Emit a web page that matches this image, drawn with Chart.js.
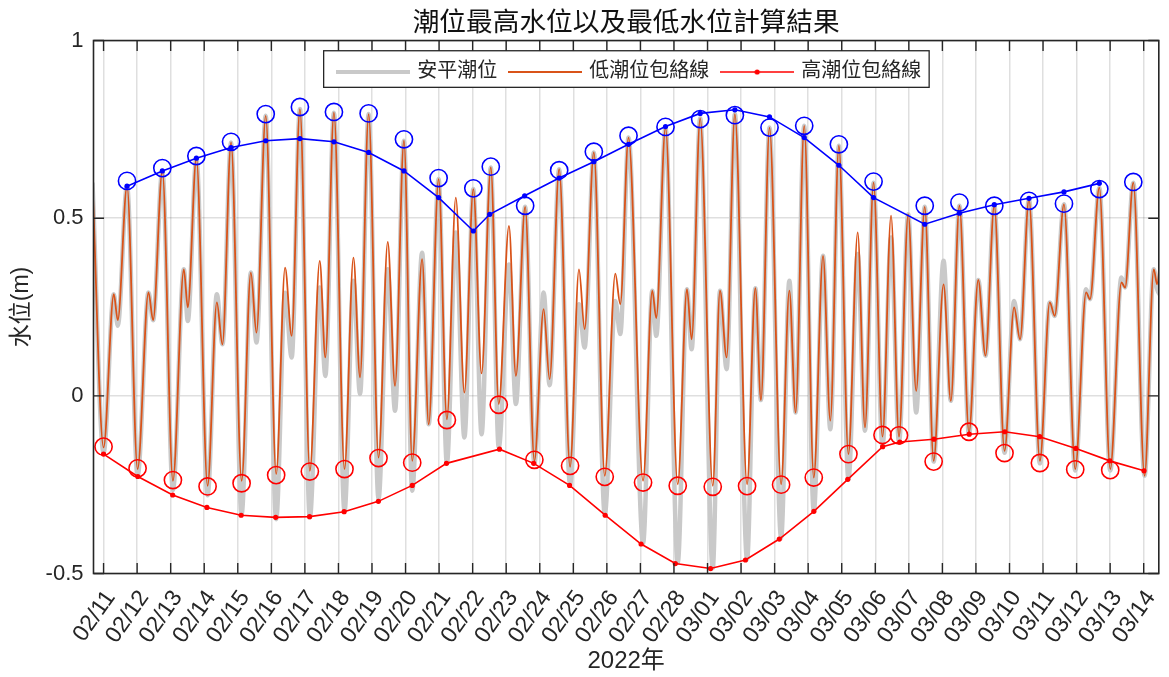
<!DOCTYPE html>
<html><head><meta charset="utf-8">
<script src="https://cdn.jsdelivr.net/npm/chart.js@4.4.1/dist/chart.umd.min.js"></script>
<style>html,body{margin:0;padding:0;background:#fff;}canvas{display:block;}</style>
</head><body>
<canvas id="c" width="1169" height="677" style="width:1169px;height:677px"></canvas>
<script>
// ---- data (time = days since 2022-02-11 00:00) ----
const dateLabels = ['02/11','02/12','02/13','02/14','02/15','02/16','02/17','02/18','02/19','02/20','02/21','02/22','02/23','02/24','02/25','02/26','02/27','02/28','03/01','03/02','03/03','03/04','03/05','03/06','03/07','03/08','03/09','03/10','03/11','03/12','03/13','03/14'];
const yTickValues = [-0.5, 0, 0.5, 1];
const yTickLabels = ['-0.5', '0', '0.5', '1'];

const tideTime = [
  -0.33, 0.00, 0.305, 0.423, 0.699, 1.014, 1.339, 1.476, 1.752, 2.067, 2.392, 2.51, 2.766, 3.10, 3.376, 3.543, 3.80, 4.114, 4.39, 4.557, 4.833,
  5.144, 5.41, 5.606, 5.852, 6.148, 6.443, 6.61, 6.866, 7.181, 7.447, 7.644, 7.90, 8.195, 8.47, 8.687, 8.953, 9.199, 9.494, 9.69, 9.986, 10.232,
  10.498, 10.754, 11.02, 11.266, 11.541, 11.778, 12.083, 12.289, 12.565, 12.84, 13.116, 13.293, 13.579, 13.904, 14.169, 14.337, 14.612, 14.937, 15.252, 15.40, 15.646,
  16.079, 16.354, 16.472, 16.748, 17.112, 17.388, 17.526, 17.781, 18.156, 18.372, 18.569, 18.815, 19.179, 19.425, 19.593, 19.848, 20.193, 20.439, 20.626, 20.882,
  21.167, 21.443, 21.66, 21.915, 22.20, 22.476, 22.693, 22.949, 23.215, 23.47, 23.707, 23.982, 24.219, 24.474, 24.74, 25.035, 25.252, 25.508, 25.793, 26.069, 26.285,
  26.547, 26.852, 27.138, 27.315, 27.581, 27.906, 28.20, 28.348, 28.624, 28.959, 29.283, 29.40, 29.677, 30.002, 30.337, 30.445, 30.69, 31.026, 31.30, 31.40, 31.52
];
const observedLevel = [
  0.60, -0.16, 0.286, 0.197, 0.59, -0.225, 0.291, 0.213, 0.633, -0.265, 0.356, 0.211, 0.669, -0.28, 0.286, 0.145, 0.713, -0.333, 0.347, 0.15, 0.788,
  -0.347, 0.29, 0.108, 0.807, -0.342, 0.305, 0.056, 0.797, -0.324, 0.324, 0.005, 0.793, -0.29, 0.356, -0.042, 0.718, -0.267, 0.403, -0.08, 0.61, -0.19,
  0.46, -0.117, 0.582, -0.108, 0.643, -0.145, 0.37, -0.023, 0.532, -0.19, 0.291, 0.03, 0.638, -0.25, 0.258, 0.136, 0.685, -0.333, 0.267, 0.174, 0.727,
  -0.415, 0.296, 0.169, 0.755, -0.47, 0.30, 0.131, 0.781, -0.485, 0.296, 0.075, 0.793, -0.46, 0.303, -0.012, 0.755, -0.40, 0.324, -0.047, 0.76,
  -0.325, 0.394, -0.094, 0.704, -0.235, 0.399, -0.098, 0.60, -0.143, 0.446, -0.13, 0.511, -0.047, 0.532, -0.185, 0.38, -0.014, 0.535, -0.108, 0.326, 0.113,
  0.535, -0.16, 0.267, 0.159, 0.553, -0.19, 0.263, 0.225, 0.539, -0.21, 0.30, 0.272, 0.586, -0.21, 0.333, 0.305, 0.60, -0.225, 0.356, 0.30, 0.28
];
const fittedLevel = [
  0.60, -0.145, 0.286, 0.213, 0.59, -0.206, 0.291, 0.213, 0.633, -0.239, 0.356, 0.249, 0.669, -0.253, 0.263, 0.145, 0.713, -0.239, 0.347, 0.178, 0.788,
  -0.22, 0.361, 0.169, 0.807, -0.211, 0.38, 0.108, 0.797, -0.206, 0.389, 0.052, 0.793, -0.174, 0.433, 0.028, 0.718, -0.183, 0.385, -0.08, 0.61, -0.066,
  0.558, 0.009, 0.582, 0.063, 0.643, -0.023, 0.478, 0.056, 0.532, -0.183, 0.244, 0.047, 0.638, -0.20, 0.356, 0.188, 0.685, -0.225, 0.344, 0.258, 0.727,
  -0.239, 0.296, 0.219, 0.755, -0.249, 0.30, 0.159, 0.781, -0.253, 0.296, 0.108, 0.793, -0.249, 0.303, -0.012, 0.755, -0.249, 0.296, -0.047, 0.76,
  -0.23, 0.394, -0.07, 0.704, -0.164, 0.46, -0.089, 0.60, -0.115, 0.507, -0.115, 0.511, 0.014, 0.532, -0.183, 0.314, -0.014, 0.535, -0.103, 0.326, 0.113,
  0.535, -0.155, 0.249, 0.159, 0.553, -0.183, 0.263, 0.225, 0.539, -0.206, 0.291, 0.272, 0.586, -0.206, 0.319, 0.305, 0.60, -0.225, 0.356, 0.314, 0.45
];

// marked high tides (blue circles)
const highTime = [0.699, 1.752, 2.766, 3.80, 4.833, 5.852, 6.866, 7.90, 8.953, 9.986, 11.02, 11.541, 12.565, 13.579, 14.612, 15.646, 16.748, 17.781, 18.815, 19.848, 20.882, 21.915, 22.949, 24.474, 25.508, 26.547, 27.581, 28.624, 29.677, 30.69];
const highLevel = [0.605, 0.641, 0.675, 0.715, 0.793, 0.813, 0.799, 0.795, 0.722, 0.613, 0.584, 0.645, 0.535, 0.635, 0.687, 0.732, 0.757, 0.779, 0.79, 0.755, 0.76, 0.708, 0.603, 0.535, 0.544, 0.535, 0.549, 0.541, 0.582, 0.602];
// marked low tides (red circles)
const lowTime = [0.0, 1.014, 2.067, 3.10, 4.114, 5.144, 6.148, 7.181, 8.195, 9.199, 10.232, 11.778, 12.84, 13.904, 14.937, 16.079, 17.112, 18.156, 19.179, 20.193, 21.167, 22.20, 23.215, 23.707, 24.74, 25.793, 26.852, 27.906, 28.959, 30.002];
const lowLevel = [-0.143, -0.204, -0.237, -0.255, -0.246, -0.223, -0.213, -0.206, -0.175, -0.188, -0.068, -0.025, -0.18, -0.197, -0.228, -0.244, -0.253, -0.256, -0.254, -0.25, -0.23, -0.164, -0.11, -0.111, -0.185, -0.101, -0.161, -0.189, -0.207, -0.209];
// upper envelope (blue line)
const highEnvTime = [0.699, 1.752, 2.766, 3.80, 4.833, 5.852, 6.866, 7.90, 8.953, 9.986, 11.02, 11.51, 12.55, 13.579, 14.612, 15.646, 16.748, 17.781, 18.815, 19.848, 20.882, 21.915, 22.949, 24.474, 25.508, 26.547, 27.581, 28.624, 29.677];
const highEnvLevel = [0.59, 0.633, 0.669, 0.699, 0.718, 0.724, 0.715, 0.685, 0.633, 0.558, 0.464, 0.511, 0.563, 0.613, 0.659, 0.708, 0.758, 0.795, 0.805, 0.785, 0.727, 0.649, 0.558, 0.483, 0.514, 0.538, 0.556, 0.574, 0.598];
// lower envelope (red line, legend: 高潮位包絡線)
const lowEnvTime = [0.0, 1.02, 2.06, 3.08, 4.10, 5.13, 6.14, 7.17, 8.19, 9.20, 10.22, 11.80, 12.82, 13.89, 14.95, 16.02, 17.04, 18.09, 19.13, 20.14, 21.17, 22.18, 23.22, 23.73, 24.75, 25.80, 26.86, 27.90, 28.98, 29.99, 31.01];
const lowEnvLevel = [-0.164, -0.227, -0.279, -0.314, -0.336, -0.342, -0.340, -0.326, -0.297, -0.252, -0.19, -0.15, -0.19, -0.252, -0.336, -0.417, -0.472, -0.486, -0.462, -0.403, -0.325, -0.235, -0.143, -0.13, -0.122, -0.108, -0.101, -0.115, -0.148, -0.183, -0.211];

// ---- helpers ----
const zip = (xs, ys) => xs.slice(0, Math.min(xs.length, ys.length)).map((x, i) => ({x, y: ys[i]}));
const FAMILY = "'Liberation Sans', 'Noto Sans CJK TC', Arial, sans-serif";
const AXIS = '#262626';
const GRAY = '#c9c9c9', ORANGE = '#D95319', RED = '#ff0000', BLUE = '#0000ff';
const LEGEND_SHIFT = 4;

function sample(kind) {
  const c = document.createElement('canvas'); c.width = 74; c.height = 12;
  const g = c.getContext('2d');
  if (kind === 'gray') { g.strokeStyle = GRAY; g.lineWidth = 4; }
  else if (kind === 'orange') { g.strokeStyle = ORANGE; g.lineWidth = 1.8; }
  else { g.strokeStyle = RED; g.lineWidth = 1.6; }
  g.beginPath(); g.moveTo(0, 6); g.lineTo(74, 6); g.stroke();
  if (kind === 'red') { g.fillStyle = RED; g.beginPath(); g.arc(37, 6, 2.6, 0, Math.PI * 2); g.fill(); }
  return c;
}
const legendSamples = {'安平潮位': sample('gray'), '低潮位包絡線': sample('orange'), '高潮位包絡線': sample('red')};
const legendOrder = ['安平潮位', '低潮位包絡線', '高潮位包絡線'];

function drawLegendFrame(chart) {
  const lg = chart.legend, ctx = chart.ctx, a = chart.chartArea;
  const lab = lg.options.labels;
  ctx.save();
  ctx.font = lab.font.size + 'px ' + FAMILY;
  let total = 0;
  (lg.legendItems || []).forEach((it, i) => {
    total += lab.pointStyleWidth + lab.font.size / 2 + ctx.measureText(it.text).width + (i ? lab.padding : 0);
  });
  const cx = (a.left + a.right) / 2 + LEGEND_SHIFT;
  const left = cx - total / 2 - 15.5, right = cx + total / 2 + 8;
  const top = a.top + 10.2, bottom = a.top + 46.8;
  ctx.fillStyle = '#ffffff';
  ctx.fillRect(left, top, right - left, bottom - top);
  ctx.strokeStyle = AXIS; ctx.lineWidth = 1.3;
  ctx.strokeRect(left, top, right - left, bottom - top);
  ctx.restore();
}

const framePlugin = {
  id: 'matlabFrame',
  afterLayout(chart) {
    const lg = chart.legend;
    if (lg && !lg._framePatched) {
      const orig = lg.draw.bind(lg);
      lg.draw = function (area) {
        const a = chart.chartArea;
        const saved = {left: lg.left, right: lg.right, top: lg.top, bottom: lg.bottom, width: lg.width, height: lg.height};
        lg.left = a.left + 2 * LEGEND_SHIFT; lg.right = a.right; lg.width = lg.right - lg.left;
        lg.top = a.top; lg.bottom = a.top + 60; lg.height = 60;
        drawLegendFrame(chart);
        orig(area);
        Object.assign(lg, saved);
      };
      lg._framePatched = true;
    }
  },
  afterDatasetsDraw(chart) {
    const {ctx, chartArea: a, scales: {x, y}} = chart;
    const TL = 10.5;
    ctx.save();
    ctx.strokeStyle = AXIS; ctx.lineWidth = 1.4;
    ctx.beginPath();
    x.ticks.forEach(t => {
      const p = x.getPixelForValue(t.value);
      ctx.moveTo(p, a.bottom); ctx.lineTo(p, a.bottom - TL);
      ctx.moveTo(p, a.top); ctx.lineTo(p, a.top + TL);
    });
    y.ticks.forEach(t => {
      const p = y.getPixelForValue(t.value);
      ctx.moveTo(a.left, p); ctx.lineTo(a.left + TL, p);
      ctx.moveTo(a.right, p); ctx.lineTo(a.right - TL, p);
    });
    ctx.stroke();
    ctx.lineWidth = 1.6;
    ctx.strokeRect(a.left, a.top, a.right - a.left, a.bottom - a.top);
    ctx.restore();
  }
};

Chart.defaults.font.family = FAMILY;
Chart.defaults.color = AXIS;

new Chart(document.getElementById('c'), {
  type: 'line',
  data: {
    datasets: [
      { label: '安平潮位', data: zip(tideTime, observedLevel), borderColor: GRAY, borderWidth: 4.5,
        pointRadius: 0, cubicInterpolationMode: 'monotone', order: 6 },
      { label: '低潮位包絡線', data: zip(tideTime, fittedLevel), borderColor: ORANGE, borderWidth: 1.8,
        pointRadius: 0, cubicInterpolationMode: 'monotone', order: 5 },
      { label: '高潮位包絡線', data: zip(lowEnvTime, lowEnvLevel), borderColor: RED, backgroundColor: RED,
        borderWidth: 1.6, pointRadius: 2.6, pointBorderWidth: 0, pointBackgroundColor: RED, tension: 0, order: 4 },
      { label: 'upper envelope', data: zip(highEnvTime, highEnvLevel), borderColor: BLUE, backgroundColor: BLUE,
        borderWidth: 1.6, pointRadius: 2.6, pointBorderWidth: 0, pointBackgroundColor: BLUE, tension: 0, order: 3 },
      { label: 'high marks', data: zip(highTime, highLevel), showLine: false, pointStyle: 'circle',
        pointRadius: 8.6, pointBorderWidth: 1.6, pointBorderColor: BLUE, pointBackgroundColor: 'rgba(0,0,0,0)', order: 2 },
      { label: 'low marks', data: zip(lowTime, lowLevel), showLine: false, pointStyle: 'circle',
        pointRadius: 8.6, pointBorderWidth: 1.6, pointBorderColor: RED, pointBackgroundColor: 'rgba(0,0,0,0)', order: 1 }
    ]
  },
  options: {
    responsive: false, animation: false, devicePixelRatio: 1, events: [],
    layout: { padding: { left: 0, right: 2.5, top: 0, bottom: 0 } },
    plugins: {
      tooltip: { enabled: false },
      title: { display: true, fullSize: false, text: '潮位最高水位以及最低水位計算結果', color: '#111111',
        font: { size: 26.7, weight: 'normal', family: FAMILY, lineHeight: 1.2 }, padding: { top: 7.5, bottom: 1 } },
      legend: {
        display: true, position: 'top', fullSize: false, maxHeight: 0.001,
        title: { display: true, text: '', font: { size: 4 }, padding: { top: 2.6, bottom: 0 } },
        labels: {
          usePointStyle: true, pointStyleWidth: 68, padding: 14, color: AXIS,
          font: { size: 20, family: FAMILY },
          generateLabels: (chart) => legendOrder.map(name => {
            const idx = chart.data.datasets.findIndex(d => d.label === name);
            const ds = chart.data.datasets[idx];
            return { text: name, datasetIndex: idx, pointStyle: legendSamples[name], fillStyle: ds.borderColor,
                     strokeStyle: ds.borderColor, lineWidth: 0, hidden: false, fontColor: AXIS };
          })
        }
      }
    },
    scales: {
      x: {
        type: 'linear', min: -0.30, max: 31.45, offset: false,
        afterFit: s => { s.height = 103.5; s.paddingLeft = 0; s.paddingRight = 0; },
        afterBuildTicks: s => { s.ticks = dateLabels.map((_, i) => ({ value: i })); },
        ticks: { autoSkip: false, minRotation: 55, maxRotation: 55, padding: 12, labelOffset: 7, color: AXIS,
          font: { size: 23 }, callback: v => dateLabels[Math.round(v)] },
        grid: { color: 'rgba(38,38,38,0.15)', lineWidth: 1.5, drawTicks: false },
        border: { display: false },
        title: { display: true, text: '2022年', color: AXIS, font: { size: 24 }, padding: { top: 0, bottom: 1 } }
      },
      y: {
        type: 'linear', min: -0.5, max: 1,
        afterFit: s => { s.width = 93.5; s.paddingTop = 0; s.paddingBottom = 0; },
        afterBuildTicks: s => { s.ticks = yTickValues.map(v => ({ value: v })); },
        ticks: { padding: 10, color: AXIS, font: { size: 22 },
          callback: v => yTickLabels[yTickValues.indexOf(v)] },
        grid: { color: 'rgba(38,38,38,0.15)', lineWidth: 1.5, drawTicks: false },
        border: { display: false },
        title: { display: true, text: '水位(m)', color: AXIS, font: { size: 23 }, padding: { top: 8, bottom: 0 } }
      }
    }
  },
  plugins: [framePlugin]
});
</script>
</body></html>
